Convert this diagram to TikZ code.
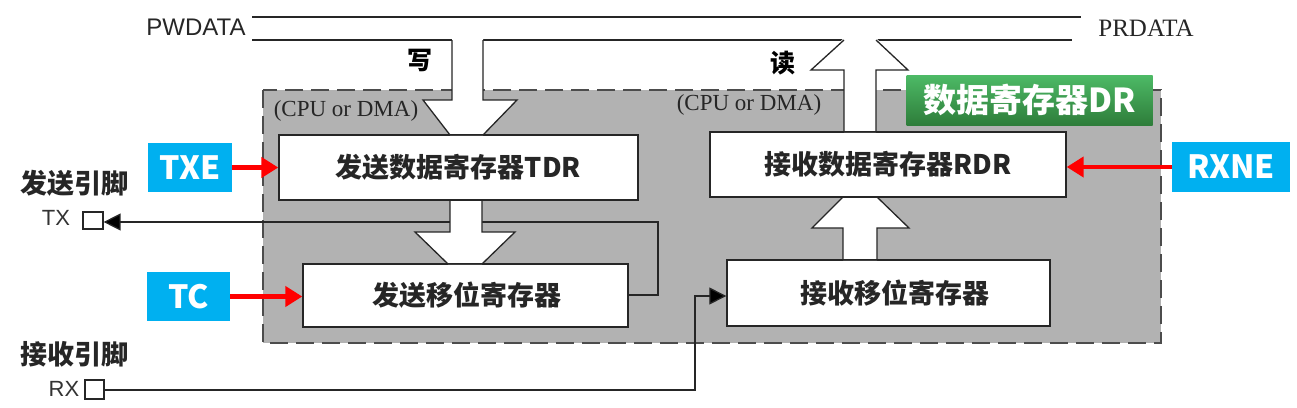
\documentclass[tikz,border=0pt]{standalone}
\usepackage{fontspec}
\usetikzlibrary{arrows.meta}
\setmainfont{Liberation Serif}
\newfontfamily\arialf{Liberation Sans}
\newfontfamily\cjk{Noto Sans CJK SC}
\definecolor{panelgray}{HTML}{B2B2B2}
\definecolor{lineclr}{HTML}{262626}
\definecolor{flagblue}{HTML}{00B0F0}
\definecolor{grnA}{HTML}{4DBA66}
\definecolor{grnB}{HTML}{2E7D3A}
\tikzset{
  regbox/.style={draw=lineclr, line width=1.4pt, fill=white, inner sep=0pt,
    font=\cjk\bfseries\fontsize{27}{30}\selectfont, text=black!85},
  flagbox/.style={fill=flagblue, inner sep=0pt, text=white,
    font=\cjk\bfseries\fontsize{32}{34}\selectfont},
  pinbox/.style={draw=lineclr, line width=1.2pt, fill=white, inner sep=0pt},
  pinlabel/.style={font=\cjk\bfseries\fontsize{27}{30}\selectfont, text=black!85, inner sep=0pt},
  pinname/.style={font=\arialf\fontsize{22}{24}\selectfont, text=black!80, inner sep=0pt},
  busname/.style={inner sep=0pt, text=black!85},
  wire/.style={draw=lineclr, line width=1.3pt},
  redarrow/.style={draw=red, line width=4.4pt, -{Triangle[length=17pt,width=20pt]}, red},
  blackarrow/.style={wire, -{Triangle[length=17pt,width=17pt,fill=black]}},
  blockfill/.style={fill=white, draw=none},
  blockline/.style={draw=lineclr, line width=1.3pt},
  cpulabel/.style={font=\fontsize{23}{25}\selectfont, text=black!85, inner sep=0pt},
  rwlabel/.style={font=\cjk\bfseries\fontsize{25}{27}\selectfont, text=black, inner sep=0pt}
}
\begin{document}
\begin{tikzpicture}[x=1pt,y=-1pt]
\useasboundingbox (0,0) rectangle (1297,407);
% gray panel
\fill[panelgray] (263,90) rectangle (1161,343);
\draw[draw=black!70, line width=1.4pt, dash pattern=on 18pt off 8pt] (263,90) rectangle (1161,343);

% boxes
\node[regbox, minimum width=359pt, minimum height=65pt] (tdr) at (458.5,167.5) {发送数据寄存器TDR};
\node[regbox, minimum width=325pt, minimum height=63pt] (tsr) at (465.5,295.5) {\hspace*{2pt}发送移位寄存器};
\node[regbox, minimum width=356pt, minimum height=65pt] (rdr) at (888,164.5) {接收数据寄存器RDR};
\node[regbox, minimum width=323pt, minimum height=66pt] (rsr) at (888.5,293) {\hspace*{12pt}接收移位寄存器};

% pins
\node[pinlabel] (txpinlbl) at (74,183) {发送引脚};
\node[pinname] (txname) at (56,218) {TX};
\node[pinbox, minimum width=20pt, minimum height=17pt] (txpin) at (93,220.5) {};
\node[pinlabel] (rxpinlbl) at (74,354) {接收引脚};
\node[pinname] (rxname) at (64,389) {RX};
\node[pinbox, minimum width=19pt, minimum height=19pt] (rxpin) at (94.5,389.5) {};

% TX wire (drawn before the block arrow so the shaft hides it)
\coordinate (txa) at (658,295);
\coordinate (txb) at (658,222);
\draw[blackarrow] (tsr.east |- txa) -- (txa) -- (txb) -- (txpin.east |- txb);
% RX wire
\coordinate (rxa) at (695,390);
\coordinate (rxb) at (695,296);
\draw[blackarrow] (rxpin.east |- rxa) -- (rxa) -- (rxb) -- (rsr.west |- rxb);

% bus lines
\draw[wire] (252,17) -- (1081,17);
\draw[wire] (252,40) -- (452,40);
\draw[wire] (483,40) -- (844,40);
\draw[wire] (876,40) -- (1072,40);

% write block arrow (bus -> TDR)
\fill[blockfill] (452,38) -- (452,100) -- (423,100) -- (450,135) -- (483,135) -- (517,100) -- (483,100) -- (483,38) -- cycle;
\draw[blockline] (452,40) -- (452,100) -- (423,100) -- (450,135);
\draw[blockline] (483,40) -- (483,100) -- (517,100) -- (483,135);
% read block arrow (RDR -> bus)
\fill[blockfill] (844,132) -- (844,70) -- (811,70) -- (844,38) -- (876,38) -- (908,70) -- (876,70) -- (876,132) -- cycle;
\draw[blockline] (844,132) -- (844,70) -- (811,70) -- (844,40);
\draw[blockline] (876,132) -- (876,70) -- (908,70) -- (876,40);
% TDR -> shift register block arrow
\fill[blockfill] (450,200) -- (450,232) -- (415,232) -- (448,264) -- (482,264) -- (515,232) -- (482,232) -- (482,200) -- cycle;
\draw[blockline] (450,200) -- (450,232) -- (415,232) -- (448,264);
\draw[blockline] (482,200) -- (482,232) -- (515,232) -- (482,264);
% receive shift -> RDR block arrow
\fill[blockfill] (843,260) -- (843,228) -- (812,228) -- (843,197) -- (877,197) -- (909,228) -- (877,228) -- (877,260) -- cycle;
\draw[blockline] (843,260) -- (843,228) -- (812,228) -- (843,197);
\draw[blockline] (877,260) -- (877,228) -- (909,228) -- (877,197);

% redraw box borders on top of arrows
\draw[draw=lineclr, line width=1.4pt] (tdr.south west) -- (tdr.south east);
\draw[draw=lineclr, line width=1.4pt] (tsr.north west) -- (tsr.north east);
\draw[draw=lineclr, line width=1.4pt] (rdr.south west) -- (rdr.south east);
\draw[draw=lineclr, line width=1.4pt] (rsr.north west) -- (rsr.north east);
\draw[draw=lineclr, line width=1.4pt] (tdr.north west) -- (tdr.north east);
\draw[draw=lineclr, line width=1.4pt] (rdr.north west) -- (rdr.north east);

% labels
\node[busname, font=\arialf\fontsize{24}{26}\selectfont] (pw) at (196,27) {PWDATA};
\node[busname, font=\fontsize{25}{27}\selectfont] (pr) at (1146,28) {PRDATA};
\node[cpulabel] (cpu1) at (346,111) {(CPU or DMA)};
\node[cpulabel] (cpu2) at (749,105) {(CPU or DMA)};
\node[rwlabel] (wr) at (420,60) {写};
\node[rwlabel] (rd) at (783,63) {读};

% green label
\node[inner sep=0pt, minimum width=246pt, minimum height=50pt, top color=grnA, bottom color=grnB, text=white,
  font=\cjk\bfseries\fontsize{33}{35}\selectfont] (dr) at (1029.5,100) {数据寄存器DR};

% flags
\node[flagbox, minimum width=84pt, minimum height=49pt] (txe) at (190,167.5) {TXE};
\node[flagbox, minimum width=83pt, minimum height=49pt] (tc) at (188.5,296.5) {TC};
\node[flagbox, minimum width=118pt, minimum height=50pt] (rxne) at (1231,167) {RXNE};
\draw[redarrow] (txe.east) -- (tdr.west |- txe.east);
\draw[redarrow] (tc.east) -- (tsr.west |- tc.east);
\draw[redarrow] (rxne.west) -- (rdr.east |- rxne.west);
\end{tikzpicture}
\end{document}
